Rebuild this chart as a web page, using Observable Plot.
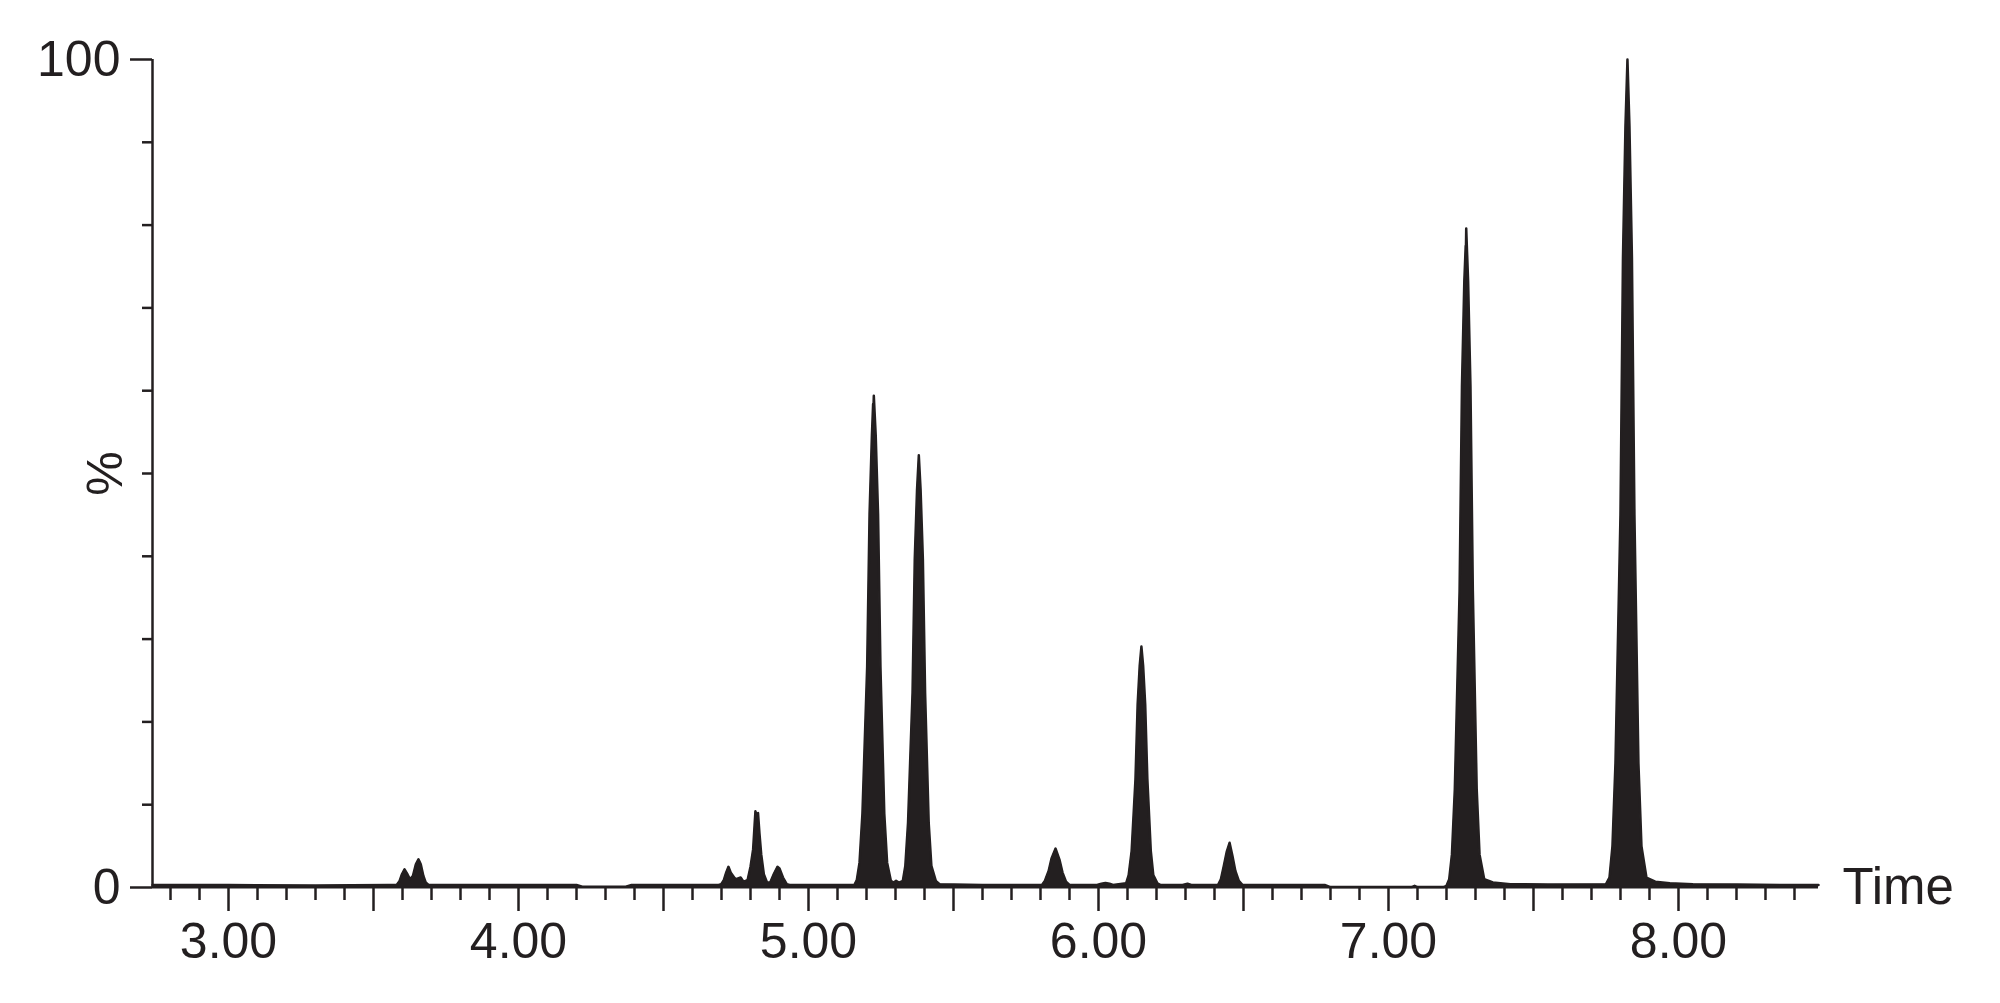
<!DOCTYPE html>
<html>
<head>
<meta charset="utf-8">
<script src="https://cdn.jsdelivr.net/npm/d3@7"></script>
<script src="https://cdn.jsdelivr.net/npm/@observablehq/plot@0.6"></script>
<style>
  html, body { margin: 0; padding: 0; background: #ffffff; }
  #chart { width: 2000px; height: 1003px; }
</style>
</head>
<body>
<div id="chart"></div>
<script>
// Chromatogram trace: retention time (min) and relative intensity (%)
const times = [
  2.738, 3.000, 3.300, 3.550,
  3.580, 3.590, 3.598, 3.607, 3.617, 3.626, 3.636, 3.646, 3.655, 3.663, 3.672, 3.680, 3.690,
  3.800, 4.000, 4.200, 4.220, 4.370, 4.390, 4.550, 4.690,
  4.699, 4.708, 4.716, 4.724, 4.732, 4.748, 4.757, 4.766, 4.776,
  4.790, 4.800, 4.809, 4.814, 4.817, 4.821, 4.826, 4.831, 4.837, 4.846, 4.857,
  4.868, 4.880, 4.893, 4.900, 4.912, 4.925, 4.935,
  5.050, 5.158,
  5.1666, 5.1759, 5.1859, 5.2023, 5.2105, 5.2186, 5.2228, 5.2238, 5.2252,
  5.2318, 5.2399, 5.2481, 5.2614, 5.2711, 5.284, 5.294, 5.302, 5.312, 5.3252,
  5.3338, 5.3432, 5.3587, 5.3664, 5.3742, 5.3804,
  5.3866, 5.3944, 5.4021, 5.4145, 5.4238, 5.4390, 5.452,
  5.600, 5.805,
  5.815, 5.828, 5.838, 5.852, 5.866, 5.876, 5.888, 5.900,
  5.995, 6.010, 6.024, 6.038, 6.050,
  6.0952, 6.104, 6.1142, 6.1275, 6.1349, 6.1421, 6.148,
  6.1539, 6.1611, 6.1685, 6.1804, 6.189, 6.2032, 6.215,
  6.290, 6.307, 6.320,
  6.412, 6.422, 6.432, 6.442, 6.452, 6.462, 6.472, 6.484, 6.497,
  6.600, 6.780, 6.800, 7.080, 7.090, 7.100, 7.190, 7.200,
  7.2094, 7.2187, 7.2287, 7.2451, 7.2533, 7.2614, 7.2662, 7.2670, 7.2680,
  7.2746, 7.2827, 7.2909, 7.3042, 7.3139, 7.3301, 7.360, 7.420,
  7.550, 7.750,
  7.762, 7.7723, 7.7826, 7.7999, 7.8085, 7.8171, 7.824,
  7.8309, 7.8395, 7.8481, 7.8619, 7.8723, 7.8895, 7.920, 7.970,
  8.050, 8.200, 8.350, 8.4828
];
const percents = [
  0.3, 0.3, 0.25, 0.3,
  0.3, 0.8, 1.6, 2.2, 1.6, 1.0, 1.4, 2.8, 3.4, 2.8, 1.4, 0.6, 0.3,
  0.3, 0.3, 0.3, 0.1, 0.1, 0.3, 0.3, 0.3,
  0.4, 0.9, 1.8, 2.5, 1.8, 1.0, 1.1, 1.2, 0.7,
  0.9, 2.5, 4.6, 7.5, 9.2, 8.8, 9.0, 6.5, 4.0, 1.6, 0.6,
  0.6, 1.6, 2.5, 2.3, 1.2, 0.4, 0.3,
  0.3, 0.3,
  0.9, 3.0, 8.9, 26.7, 45.1, 54.6, 58.4, 57.6, 59.4,
  54.6, 45.1, 26.7, 8.9, 3.0, 0.8, 0.6, 0.8, 0.6, 0.8,
  2.6, 7.8, 23.5, 39.7, 48, 52.2,
  48, 39.7, 23.5, 7.8, 2.6, 0.8, 0.4,
  0.3, 0.3,
  0.8, 2.0, 3.5, 4.7, 3.3, 1.8, 0.7, 0.3,
  0.3, 0.45, 0.55, 0.45, 0.3,
  0.5, 1.5, 4.4, 13.1, 22.1, 26.8, 29.1,
  26.8, 22.1, 13.1, 4.4, 1.5, 0.5, 0.3,
  0.3, 0.45, 0.3,
  0.3, 1.0, 2.6, 4.3, 5.4, 3.8, 2.0, 0.8, 0.3,
  0.3, 0.3, 0.05, 0.05, 0.2, 0.05, 0.05, 0.2,
  1.0, 4.0, 11.9, 35.8, 60.5, 73.2, 77.5, 77.0, 79.6,
  73.2, 60.5, 35.8, 11.9, 4.0, 1.0, 0.6, 0.4,
  0.35, 0.4,
  1.2, 5, 15, 45, 76, 92, 100,
  92, 76, 45, 15, 5, 1.2, 0.7, 0.5,
  0.4, 0.35, 0.3, 0.3
];

// Axis ticks
const xDomain = [2.7379, 8.4828];
const xLabelTicks = [3, 4, 5, 6, 7, 8];
const xHalfTicks = [3.5, 4.5, 5.5, 6.5, 7.5];
const xMinorTicks = [2.8, 2.9, 3.1, 3.2, 3.3, 3.4, 3.6, 3.7, 3.8, 3.9,
  4.1, 4.2, 4.3, 4.4, 4.6, 4.7, 4.8, 4.9, 5.1, 5.2, 5.3, 5.4, 5.6, 5.7, 5.8, 5.9,
  6.1, 6.2, 6.3, 6.4, 6.6, 6.7, 6.8, 6.9, 7.1, 7.2, 7.3, 7.4, 7.6, 7.7, 7.8, 7.9,
  8.1, 8.2, 8.3, 8.4];
const yLabelTicks = [0, 100];
const yMinorTicks = [10, 20, 30, 40, 50, 60, 70, 80, 90];
const xTitle = "Time";
const yTitle = "%";

const ink = "#231f20";
const trace = times.map((t, i) => ({t, v: percents[i]}));

const chart = Plot.plot({
  width: 2000,
  height: 1003,
  marginLeft: 152,
  marginRight: 182,
  marginTop: 59,
  marginBottom: 116,
  style: {background: "#ffffff", fontFamily: "'Liberation Sans', Arial, Helvetica, sans-serif", color: ink},
  x: {domain: xDomain, axis: null},
  y: {domain: [0, 100], axis: null},
  marks: [
    Plot.areaY(trace, {x: "t", y: "v", fill: ink, curve: "linear"}),
    Plot.line(trace, {x: "t", y: "v", stroke: ink, strokeWidth: 2.5, strokeLinejoin: "round", curve: "linear"}),
    Plot.ruleY([0], {stroke: ink, strokeWidth: 2}),
    Plot.ruleX([xDomain[0]], {stroke: ink, strokeWidth: 2.5}),
    Plot.axisX({ticks: xMinorTicks, tickSize: 13, tickFormat: () => "", strokeWidth: 2.5, color: ink, label: null}),
    Plot.axisX({ticks: xHalfTicks, tickSize: 24, tickFormat: () => "", strokeWidth: 2.5, color: ink, label: null}),
    Plot.axisX({ticks: xLabelTicks, tickSize: 24, tickPadding: 11, tickFormat: d => d.toFixed(2),
      strokeWidth: 2.5, color: ink, fontSize: 50, label: null}),
    Plot.axisY({ticks: yMinorTicks, tickSize: 10, tickFormat: () => "", strokeWidth: 2.5, color: ink, label: null}),
    Plot.axisY({ticks: yLabelTicks, tickSize: 22, tickPadding: 10, tickFormat: d => String(d),
      strokeWidth: 2.5, color: ink, fontSize: 50, label: null}),
    Plot.text([xTitle], {frameAnchor: "bottom-right", text: d => d, textAnchor: "start", lineAnchor: "middle",
      dx: 24, fontSize: 51, fill: ink}),
    Plot.text([yTitle], {frameAnchor: "left", text: d => d, textAnchor: "middle", lineAnchor: "middle",
      rotate: -90, dx: -47, fontSize: 50, fill: ink})
  ]
});
document.getElementById("chart").appendChild(chart);
</script>
</body>
</html>
